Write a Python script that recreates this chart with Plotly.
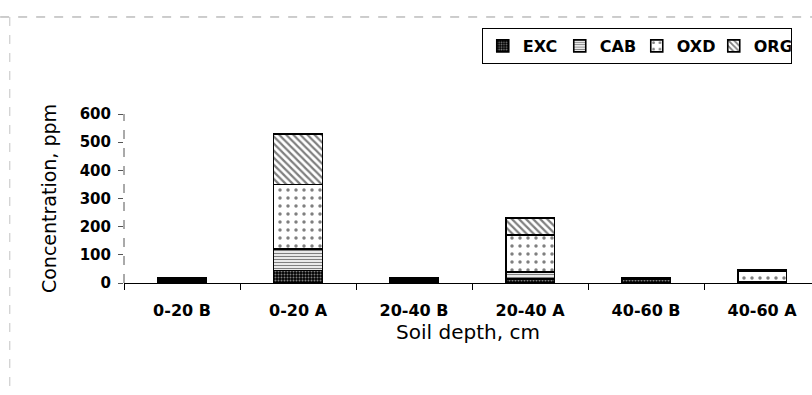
import plotly.graph_objects as go

# Soil depth classes (B / A horizons) and fraction concentrations, ppm
categories = ["0-20 B", "0-20 A", "20-40 B", "20-40 A", "40-60 B", "40-60 A"]
exc = [8, 45, 8, 15, 14, 3]
cab = [5, 75, 4, 25, 2, 3]
oxd = [4, 230, 4, 130, 1, 36]
org = [3, 180, 2, 60, 1, 4]
y_ticks = [0, 100, 200, 300, 400, 500, 600]

FONT = "DejaVu Sans, Verdana, sans-serif"

series = [
    ("EXC", exc, dict(shape=".", bgcolor="black", fgcolor="white", size=3, solidity=0.35)),
    ("CAB", cab, dict(shape="-", bgcolor="white", fgcolor="black", size=3, solidity=0.45)),
    ("OXD", oxd, dict(shape=".", bgcolor="white", fgcolor="black", size=8, solidity=0.15)),
    ("ORG", org, dict(shape="\\", bgcolor="white", fgcolor="black", size=5, solidity=0.45)),
]

fig = go.Figure()
for name, vals, pat in series:
    fig.add_trace(go.Bar(
        x=categories, y=vals, name=name, width=0.42,
        marker=dict(color="white", pattern=pat,
                    line=dict(color="black", width=1.6)),
    ))

fig.update_layout(
    width=812, height=395,
    barmode="stack",
    plot_bgcolor="white", paper_bgcolor="white",
    margin=dict(l=124, r=0, t=114, b=112, autoexpand=False),
    font=dict(family=FONT, color="black"),
    legend=dict(
        orientation="h", x=0.52, y=1.509, xanchor="left", yanchor="top",
        bordercolor="black", borderwidth=1,
        font=dict(size=16, family=FONT, weight="bold"),
        traceorder="normal", itemwidth=30, entrywidth=32,
    ),
    showlegend=True,
    shapes=[
        # faint outer frame of the chart area
        dict(type="line", xref="paper", yref="paper", x0=-0.18, x1=1.0,
             y0=1.574, y1=1.574, line=dict(color="#9a9a9a", width=1, dash="dash")),
        dict(type="line", xref="paper", yref="paper", x0=-0.166, x1=-0.166,
             y0=1.574, y1=-0.66, line=dict(color="#c4c4c4", width=1, dash="dash")),
        # dashed value axis line
        dict(type="line", xref="paper", yref="paper", x0=0, x1=0,
             y0=0, y1=1, line=dict(color="#555", width=1, dash="dash")),
    ],
)

fig.update_xaxes(
    range=[-0.5, 5.43],
    showline=True, linecolor="black", linewidth=1,
    ticks="outside", tickson="boundaries", ticklen=6, tickcolor="black",
    tickfont=dict(size=16, family=FONT, weight="bold"),
    ticklabelstandoff=13,
    title=dict(text="Soil depth, cm", font=dict(size=20, family=FONT), standoff=5),
    showgrid=False, zeroline=False,
)
fig.update_yaxes(
    range=[0, 600], tickvals=y_ticks,
    showline=False,
    ticks="outside", ticklen=5, tickcolor="#555",
    tickfont=dict(size=15, family=FONT, weight="bold"),
    ticklabelstandoff=4,
    title=dict(text="Concentration, ppm", font=dict(size=19, family=FONT), standoff=18),
    showgrid=False, zeroline=False,
)

fig.write_html("out.html")
